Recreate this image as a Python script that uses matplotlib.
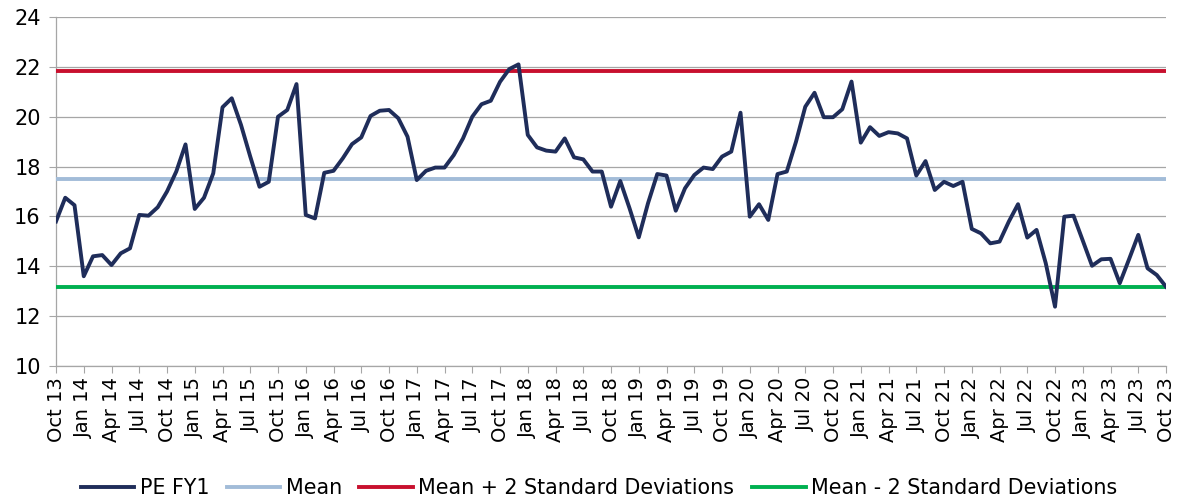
import numpy as np
import pandas as pd
import matplotlib
matplotlib.use("Agg")
import matplotlib.pyplot as plt

# monthly PE FY1, Oct 2013 - Oct 2023
pe_fy1 = [
    15.8, 16.75, 16.45,
    13.6, 14.4, 14.45, 14.05, 14.52, 14.72, 16.06, 16.03, 16.37, 17.0, 17.8, 18.89,
    16.3, 16.75, 17.73, 20.38, 20.74, 19.67, 18.4, 17.19, 17.39, 20.0, 20.27, 21.31,
    16.06, 15.92, 17.75, 17.83, 18.33, 18.9, 19.17, 20.03, 20.24, 20.27, 19.94, 19.2,
    17.46, 17.83, 17.96, 17.96, 18.46, 19.13, 20.0, 20.5, 20.64, 21.4, 21.91, 22.1,
    19.27, 18.77, 18.64, 18.6, 19.13, 18.37, 18.29, 17.8, 17.8, 16.39, 17.42, 16.33,
    15.16, 16.53, 17.7, 17.64, 16.23, 17.13, 17.66, 17.96, 17.9, 18.4, 18.6, 20.16,
    15.99, 16.49, 15.86, 17.7, 17.8, 19.0, 20.4, 20.96, 19.98, 19.98, 20.3, 21.41,
    18.96, 19.58, 19.23, 19.38, 19.33, 19.13, 17.64, 18.22, 17.06, 17.39, 17.22, 17.39,
    15.5, 15.32, 14.92, 14.99, 15.79, 16.49, 15.15, 15.46, 14.12, 12.38, 15.99, 16.03,
    15.03, 14.02, 14.28, 14.3, 13.32, 14.28, 15.26, 13.92, 13.65, 13.18,
]
mean_val = 17.52
upper_val = 21.85
lower_val = 13.18

months = pd.date_range("2013-10-01", periods=len(pe_fy1), freq="MS")
month_labels = [d.strftime("%b %y") for d in months]

plt.rcParams["font.family"] = ["DejaVu Sans"]

fig = plt.figure(figsize=(11.79, 5.0), dpi=100)
ax = fig.add_axes([0.0475, 0.268, 0.9415, 0.698])

x = np.arange(len(pe_fy1))
n = len(x)
ax.plot(x, pe_fy1, color="#1f2d5a", lw=2.8, label="PE FY1", zorder=5)
ax.plot(x, [mean_val] * n, color="#a2bcd8", lw=2.8, label="Mean", zorder=3)
ax.plot(x, [upper_val] * n, color="#c8102e", lw=2.8, label="Mean + 2 Standard Deviations", zorder=3)
ax.plot(x, [lower_val] * n, color="#00b050", lw=2.8, label="Mean - 2 Standard Deviations", zorder=3)

ax.set_xlim(0, n - 1)
ax.set_ylim(10, 24)
ax.set_yticks(range(10, 25, 2))
ax.set_xticks(x[::3])
ax.set_xticklabels(month_labels[::3], rotation=90)

ax.grid(axis="y", color="#a6a6a6", lw=0.9)
ax.set_axisbelow(True)
for s in ["top", "right"]:
    ax.spines[s].set_visible(False)
for s in ["left", "bottom"]:
    ax.spines[s].set_color("#a6a6a6")
    ax.spines[s].set_linewidth(0.9)
ax.tick_params(axis="x", length=5, color="#a6a6a6", labelsize=14, pad=3)
ax.tick_params(axis="y", length=5, color="#a6a6a6", labelsize=15, pad=6)

fig.legend(loc="center", bbox_to_anchor=(0.508, 0.024), ncol=4, frameon=False,
           fontsize=14.9, handlelength=2.6, handletextpad=0.25, columnspacing=0.85)

fig.savefig("out.png", dpi=100)
